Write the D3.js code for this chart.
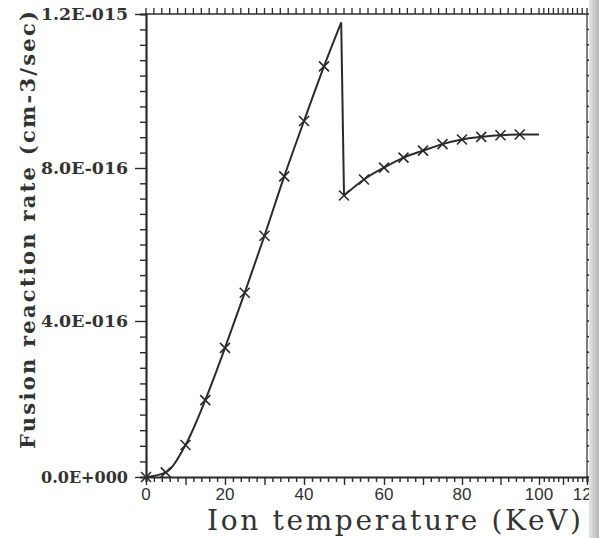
<!DOCTYPE html>
<html lang="en">
<head>
    <meta charset="UTF-8">
    <title>Fusion reaction rate vs ion temperature</title>
    <style>
        body { margin: 0; padding: 0; overflow: hidden; background: #fff; }
        svg { display: block; }
    </style>
</head>
<body>
    <script src="https://d3js.org/d3.v7.min.js"></script>
    <script>
        // (rate in units of 1e-15 cm^-3/sec)
        const riseTemp = [0, 5, 10, 15, 20, 25, 30, 35, 40, 45, 49.3];
        const riseRate = [0, 0.012, 0.082, 0.197, 0.331, 0.474, 0.623, 0.778, 0.922, 1.064, 1.178];
        const fallTemp = [50, 55, 60, 65, 70, 75, 80, 85, 90, 95, 100];
        const fallRate = [0.728, 0.770, 0.801, 0.827, 0.845, 0.862, 0.874, 0.881, 0.885, 0.887, 0.887];

        const xTickLabels = [0, 20, 40, 60, 80, 100, 120];
        const yTickValues = [0, 0.4, 0.8, 1.2];

        const width = 599;
        const height = 538;
        const plotL = 146, plotR = 587, plotT = 14, plotB = 477;

        const svg = d3.select("body").append("svg")
            .attr("width", width)
            .attr("height", height);

        svg.append("rect").attr("width", width).attr("height", height).attr("fill", "#fff");

        // the scan squeezes the right end of the axis a bit, so use a polylinear scale
        const x = d3.scaleLinear()
            .domain([0, 20, 40, 60, 80, 100, 120])
            .range([plotL, 225, 304, 384, 462, 539, plotR]);
        const y = d3.scaleLinear()
            .domain([0, 0.4, 0.8, 1.2])
            .range([plotB, 321, 168, plotT]);

        const ink = "#2b2b2b";
        const serif = "DejaVu Serif, Liberation Serif, serif";

        // frame: top and right borders (thin)
        svg.append("line").attr("x1", plotL).attr("x2", plotR).attr("y1", plotT).attr("y2", plotT)
            .attr("stroke", ink).attr("stroke-width", 1.3);
        svg.append("line").attr("x1", plotR).attr("x2", plotR).attr("y1", plotT).attr("y2", plotB)
            .attr("stroke", ink).attr("stroke-width", 1.2);

        // top border ticks every 2 KeV
        const minorX = d3.range(0, 121, 2);
        svg.append("g").selectAll("line").data(minorX).join("line")
            .attr("x1", d => x(d)).attr("x2", d => x(d))
            .attr("y1", plotT).attr("y2", plotT - 6)
            .attr("stroke", ink).attr("stroke-width", 1.3);

        // right border dots every 4e-17
        const minorY = d3.range(0, 1.2001, 0.04);
        svg.append("g").selectAll("line").data(minorY).join("line")
            .attr("x1", plotR).attr("x2", plotR + 2.5)
            .attr("y1", d => y(d)).attr("y2", d => y(d))
            .attr("stroke", ink).attr("stroke-width", 1.5);

        // bottom axis
        const xAxis = svg.append("g").attr("transform", `translate(0,${plotB})`)
            .call(d3.axisBottom(x).tickValues(minorX).tickSize(5).tickFormat(""));
        xAxis.select(".domain").attr("stroke", ink).attr("stroke-width", 2.2);
        xAxis.selectAll(".tick line").attr("stroke", ink).attr("stroke-width", 1.4)
            .attr("y2", d => d % 10 === 0 ? 8 : 5);

        svg.append("g").selectAll("text").data(xTickLabels).join("text")
            .attr("x", d => x(d)).attr("y", plotB + 23)
            .attr("text-anchor", "middle")
            .attr("font-family", "Liberation Sans, Arial, sans-serif")
            .attr("font-size", 17)
            .attr("fill", "#333")
            .text(d => d);

        // left axis
        const fmt = v => {
            if (v === 0) return "0.0E+000";
            const [m, e] = v.toExponential(1).split("e");
            const n = +e;
            return m + "E" + (n < 0 ? "-" : "+") + String(Math.abs(n)).padStart(3, "0");
        };
        const yAxis = svg.append("g").attr("transform", `translate(${plotL},0)`)
            .call(d3.axisLeft(y).tickValues(minorY).tickSize(6).tickFormat(""));
        yAxis.select(".domain").attr("stroke", ink).attr("stroke-width", 2.2);
        yAxis.selectAll(".tick line").attr("stroke", ink).attr("stroke-width", 1.4)
            .attr("x2", (d, i) => i % 10 === 0 ? -11 : -6);

        svg.append("g").selectAll("text").data(yTickValues).join("text")
            .attr("x", plotL - 18).attr("y", d => y(d))
            .attr("dy", "0.36em")
            .attr("text-anchor", "end")
            .attr("font-family", serif)
            .attr("font-weight", "bold")
            .attr("font-size", 16.5)
            .attr("textLength", 87)
            .attr("lengthAdjust", "spacingAndGlyphs")
            .attr("fill", "#333")
            .text(d => fmt(d * 1e-15));

        // curve
        const line = d3.line()
            .x(d => x(d[0])).y(d => y(d[1]))
            .curve(d3.curveMonotoneX);
        const rise = riseTemp.map((t, i) => [t, riseRate[i]]);
        const fall = fallTemp.map((t, i) => [t, fallRate[i]]);

        svg.append("path").datum(rise).attr("d", line)
            .attr("fill", "none").attr("stroke", ink).attr("stroke-width", 2);
        svg.append("path").datum([rise[rise.length - 1], fall[0]]).attr("d", d3.line().x(d => x(d[0])).y(d => y(d[1])))
            .attr("fill", "none").attr("stroke", ink).attr("stroke-width", 2);
        svg.append("path").datum(fall).attr("d", line)
            .attr("fill", "none").attr("stroke", ink).attr("stroke-width", 2);

        // x markers on every 5 KeV point
        const marks = rise.slice(0, -1).concat(fall.slice(0, -1));
        const s = 5;
        svg.append("g").selectAll("path").data(marks).join("path")
            .attr("d", d => {
                const cx = x(d[0]), cy = y(d[1]);
                return `M${cx - s},${cy - s}L${cx + s},${cy + s}M${cx - s},${cy + s}L${cx + s},${cy - s}`;
            })
            .attr("stroke", ink).attr("stroke-width", 1.6).attr("fill", "none");

        // axis titles
        svg.append("text")
            .attr("x", 207).attr("y", 530)
            .attr("font-family", serif)
            .attr("font-size", 28)
            .attr("textLength", 374)
            .attr("lengthAdjust", "spacing")
            .attr("fill", "#333")
            .text("Ion temperature (KeV)");

        svg.append("text")
            .attr("transform", "translate(35,230) rotate(-90)")
            .attr("text-anchor", "middle")
            .attr("font-family", serif)
            .attr("font-weight", "bold")
            .attr("font-size", 21)
            .attr("textLength", 438)
            .attr("lengthAdjust", "spacing")
            .attr("fill", "#333")
            .text("Fusion reaction rate (cm-3/sec)");

        // gray edge of the scanned page, over the clipped "120"
        const grad = svg.append("defs").append("linearGradient").attr("id", "edge");
        grad.append("stop").attr("offset", "0%").attr("stop-color", "#e6e6e6");
        grad.append("stop").attr("offset", "100%").attr("stop-color", "#b4b4b4");
        svg.append("rect").attr("x", 589).attr("y", 0).attr("width", 10).attr("height", height)
            .attr("fill", "url(#edge)");
    </script>
</body>
</html>
